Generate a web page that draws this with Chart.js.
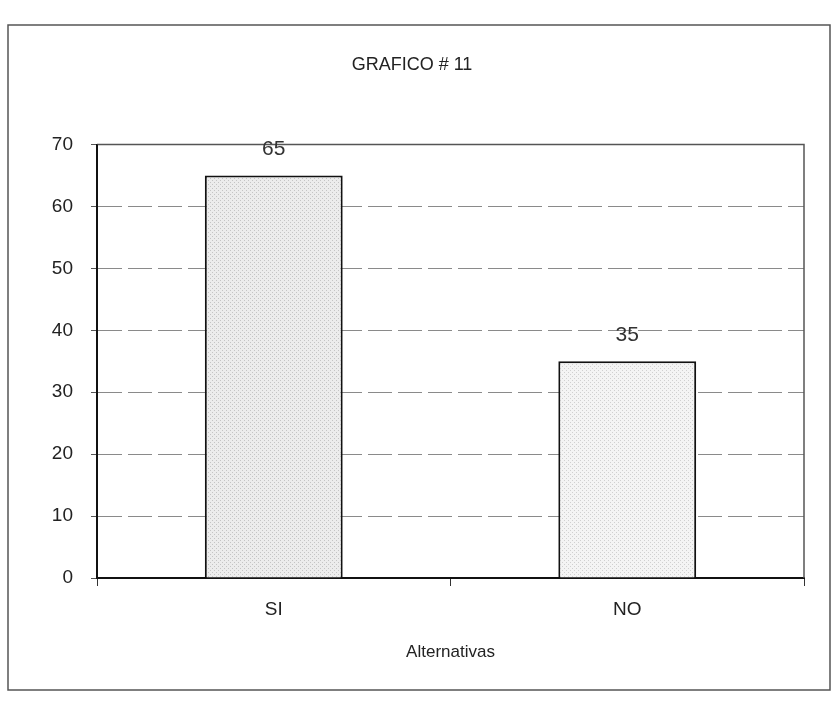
<!DOCTYPE html>
<html>
<head>
<meta charset="utf-8">
<script src="https://cdn.jsdelivr.net/npm/chart.js@4.4.1/dist/chart.umd.min.js"></script>
<style>
  html, body { margin: 0; padding: 0; background: #fff; }
  #wrap { width: 836px; height: 707px; }
</style>
</head>
<body>
<div id="wrap"><canvas id="chart" width="836" height="707"></canvas></div>
<script>
// Datos del grafico
const categories = ["SI", "NO"];
const values = [65, 35];
const yTicks = [0, 10, 20, 30, 40, 50, 60, 70];

const FONT = "'Liberation Sans', Arial, sans-serif";

// Trama punteada para las barras
function makePattern(bg, dot) {
  const c = document.createElement("canvas");
  c.width = 4; c.height = 4;
  const g = c.getContext("2d");
  g.fillStyle = bg;
  g.fillRect(0, 0, 4, 4);
  g.fillStyle = dot;
  g.fillRect(0, 0, 1, 1);
  g.fillRect(2, 2, 1, 1);
  return g.createPattern(c, "repeat");
}
const patterns = [makePattern("#ececec", "#c4c4c4"), makePattern("#f4f4f4", "#d0d0d0")];

// Marco exterior, borde del area y etiquetas de valores
const extras = {
  id: "extras",
  beforeDraw(chart) {
    const ctx = chart.ctx;
    ctx.save();
    ctx.fillStyle = "#fff";
    ctx.fillRect(0, 0, chart.width, chart.height);
    ctx.strokeStyle = "#555";
    ctx.lineWidth = 1.5;
    ctx.strokeRect(8, 25, 822, 665);
    ctx.restore();
  },
  afterDatasetsDraw(chart) {
    const ctx = chart.ctx;
    const a = chart.chartArea;
    ctx.save();
    ctx.strokeStyle = "#555";
    ctx.lineWidth = 1.5;
    ctx.beginPath();
    ctx.moveTo(a.left, a.top);
    ctx.lineTo(a.right, a.top);
    ctx.lineTo(a.right, a.bottom);
    ctx.stroke();
    // eje Y solido
    ctx.strokeStyle = "#111";
    ctx.lineWidth = 2;
    ctx.beginPath();
    ctx.moveTo(a.left, a.top);
    ctx.lineTo(a.left, a.bottom);
    ctx.stroke();
    ctx.fillStyle = "#333";
    ctx.font = "21px " + FONT;
    ctx.textAlign = "center";
    ctx.textBaseline = "middle";
    chart.getDatasetMeta(0).data.forEach((bar, i) => {
      ctx.fillText(String(values[i]), bar.x, bar.y - 26);
    });
    ctx.restore();
  }
};

const ctx = document.getElementById("chart").getContext("2d");
new Chart(ctx, {
  type: "bar",
  data: {
    labels: categories,
    datasets: [{
      data: values,
      backgroundColor: patterns,
      borderColor: "#111",
      borderWidth: 2,
      categoryPercentage: 1,
      barPercentage: 0.39
    }]
  },
  options: {
    responsive: false,
    animation: false,
    layout: { padding: { left: 20, right: 32, top: 0, bottom: 0 } },
    plugins: {
      legend: { display: false },
      tooltip: { enabled: false },
      title: {
        display: true,
        text: "GRAFICO # 11",
        color: "#222",
        font: { family: FONT, size: 18, weight: "normal" },
        padding: { top: 54, bottom: 69 }
      }
    },
    scales: {
      y: {
        min: 0,
        max: 70,
        afterBuildTicks(scale) {
          scale.ticks = yTicks.map(v => ({ value: v }));
        },
        afterFit(scale) { scale.width = 77; },
        border: { display: true, color: "#111", width: 2, dash: [24, 6] },
        grid: {
          color: (c) => c.tick && c.tick.value === 0 ? "rgba(0,0,0,0)" : "#8a8a8a",
          tickColor: "#555",
          tickLength: 6,
          drawTicks: true,
          tickBorderDash: []
        },
        ticks: {
          color: "#222",
          padding: 18,
          font: { family: FONT, size: 19 }
        }
      },
      x: {
        afterFit(scale) { scale.height = 129; },
        border: { display: true, color: "#111", width: 2 },
        grid: { drawOnChartArea: false, drawTicks: true, tickLength: 8, color: "#333" },
        ticks: {
          color: "#222",
          padding: 12,
          font: { family: FONT, size: 19 }
        },
        title: {
          display: true,
          text: "Alternativas",
          color: "#222",
          font: { family: FONT, size: 17 },
          padding: { top: 4, bottom: 44 }
        }
      }
    }
  },
  plugins: [extras]
});
</script>
</body>
</html>
